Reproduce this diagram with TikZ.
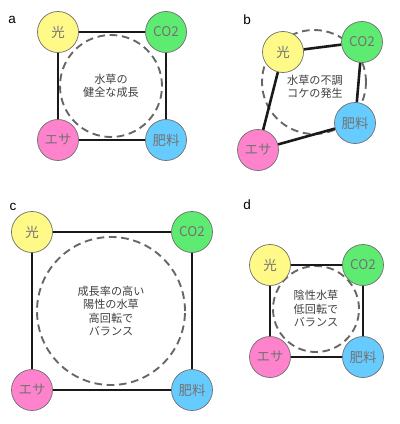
\documentclass[tikz,border=0pt]{standalone}
\usepackage{fontspec}
\setmainfont{Noto Sans CJK JP}
\setsansfont{Liberation Sans}
\usepackage{tikz}
\usetikzlibrary{positioning}
\usepackage{xcolor}
\definecolor{hikari}{HTML}{FFFA88}
\definecolor{cotwo}{HTML}{5EEB72}
\definecolor{esa}{HTML}{FF82CC}
\definecolor{hiryo}{HTML}{66CCFF}
\definecolor{rimgray}{HTML}{6E6E6E}
\tikzset{
  factor/.style={circle, draw=rimgray, line width=0.6pt, minimum size=1.23cm,
                 inner sep=0pt, text=black!55, font=\fontsize{11.5}{12}\selectfont},
  balance/.style={circle, draw=black!60, dashed, dash pattern=on 6.5pt off 4pt,
                  line width=1.6pt, inner sep=0pt, align=center,
                  text=black!75, font=\fontsize{9.5}{11.5}\selectfont},
  link/.style={line width=2.2pt, black!90},
  panel/.style={font=\sffamily\fontsize{11.5}{12}\selectfont, anchor=center},
}

\begin{document}
\begin{tikzpicture}[x=0.03cm, y=-0.03cm]
  \useasboundingbox (0,0) rectangle (400,424);
  % a: healthy growth
  \node[panel] (la) at (12,20) {a};
  \node[balance, minimum size=3.06cm] (ca) at (111,86) {水草の\\健全な成長};
  \node[factor, fill=hikari] (a1) at (58,32) {光};
  \node[factor, fill=cotwo] (a2) at (166,32) {CO2};
  \node[factor, fill=hiryo] (a3) at (166,140) {肥料};
  \node[factor, fill=esa] (a4) at (58,140) {エサ};
  \draw[link] (a1)--(a2); \draw[link] (a2)--(a3); \draw[link] (a3)--(a4); \draw[link] (a4)--(a1);
  % b: unbalanced
  \node[panel] (lb) at (247,20) {b};
  \node[balance, minimum size=3.12cm] (cb) at (314,82) {};
  \node[factor, fill=hikari] (b1) at (283,52) {光};
  \node[factor, fill=cotwo] (b2) at (362,42) {CO2};
  \node[factor, fill=hiryo] (b3) at (355,123) {肥料};
  \node[factor, fill=esa] (b4) at (258,150) {エサ};
  \draw[link] (b1)--(b2); \draw[link] (b2)--(b3); \draw[link] (b3)--(b4); \draw[link] (b4)--(b1);
  \node[align=center, text=black!75, font=\fontsize{9.5}{11.5}\selectfont] (tb) at (315,87) {水草の不調\\コケの発生};
  % c: high turnover
  \node[panel] (lc) at (13,207) {c};
  \node[balance, minimum size=4.44cm] (cc) at (111,311) {成長率の高い\\陽性の水草\\高回転で\\バランス};
  \node[factor, fill=hikari] (c1) at (32,232) {光};
  \node[factor, fill=cotwo] (c2) at (192,232) {CO2};
  \node[factor, fill=hiryo] (c3) at (192,390) {肥料};
  \node[factor, fill=esa] (c4) at (32,390) {エサ};
  \draw[link] (c1)--(c2); \draw[link] (c2)--(c3); \draw[link] (c3)--(c4); \draw[link] (c4)--(c1);
  % d: low turnover
  \node[panel] (ld) at (247,205) {d};
  \node[balance, minimum size=2.58cm] (cd) at (316,309) {陰性水草\\低回転で\\バランス};
  \node[factor, fill=hikari] (d1) at (270,265) {光};
  \node[factor, fill=cotwo] (d2) at (363,265) {CO2};
  \node[factor, fill=hiryo] (d3) at (363,357) {肥料};
  \node[factor, fill=esa] (d4) at (270,357) {エサ};
  \draw[link] (d1)--(d2); \draw[link] (d2)--(d3); \draw[link] (d3)--(d4); \draw[link] (d4)--(d1);
\end{tikzpicture}
\end{document}
